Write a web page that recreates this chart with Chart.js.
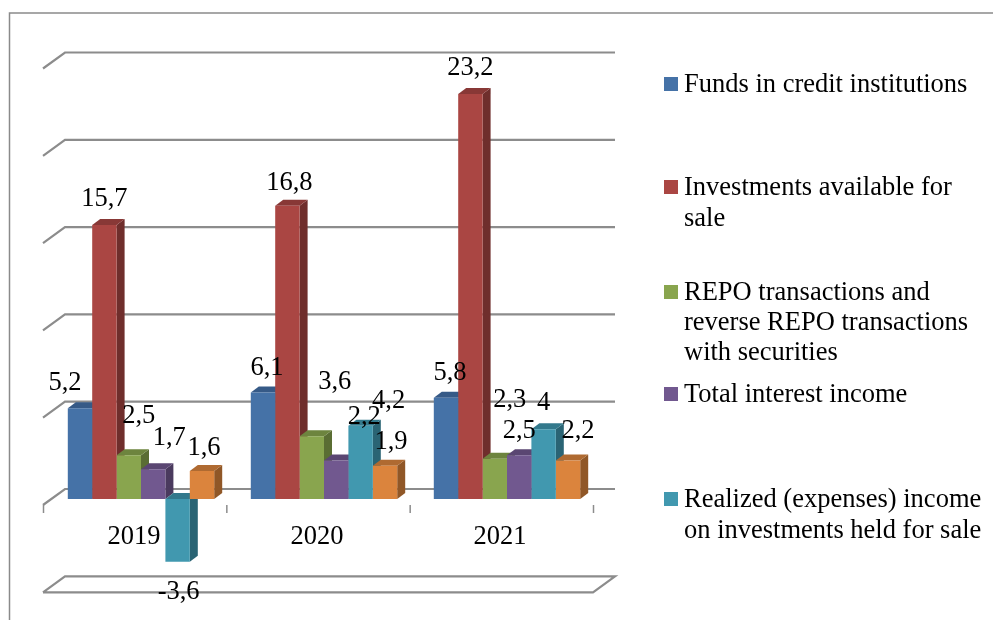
<!DOCTYPE html>
<html>
<head>
<meta charset="utf-8">
<style>html,body{margin:0;padding:0;background:#fff}canvas{display:block}</style>
<script src="https://cdn.jsdelivr.net/npm/chart.js@4/dist/chart.umd.min.js"></script>
</head>
<body>
<canvas id="c" width="993" height="620"></canvas>
<script>
const categories = ['2019', '2020', '2021'];
const funds = [5.2, 6.1, 5.8];
const investments = [15.7, 16.8, 23.2];
const repo = [2.5, 3.6, 2.3];
const totalInterest = [1.7, 2.2, 2.5];
const realized = [-3.6, 4.2, 4];
const sixthSeries = [1.6, 1.9, 2.2];

const legendLabels = [
  ['Funds in credit institutions'],
  ['Investments available for', 'sale'],
  ['REPO transactions and', 'reverse REPO transactions', 'with securities'],
  ['Total interest income'],
  ['Realized (expenses) income', 'on investments held for sale']
];
const legendBaselines = [[92], [195, 226], [300, 330, 360], [402], [507, 538]];
const legendSquareTops = [77, 180, 285, 387, 492];

const frontColors = ['#4572A7', '#AA4643', '#89A54E', '#71588F', '#4198AF', '#DB843D'];
const topColors   = ['#365A87', '#883836', '#6D843E', '#5A4672', '#33798C', '#AF6A31'];
const sideColors  = ['#2E4C70', '#6F2E2C', '#5A6D33', '#4A3A5E', '#2A6474', '#905727'];

// label offset from the bar's centre/top, [dx, dy] per series and category
const labelOffsets = [
  [[-15, -25], [4, -24], [4, -25]],
  [[0, -26], [2, -23], [0, -26]],
  [[10, -39], [23, -54], [15, -59]],
  [[16, -31], [28, -44], [0, -24]],
  [[1, 30], [28, -25], [0, -26]],
  [[2, -23], [6, -24], [10, -30]]
];

const DEPTH_X = 8, DEPTH_Y = -6;
const GRID = '#8C8C8C';
const FONT = '26.5px "Liberation Serif"';

const threeD = {
  id: 'threeD',
  beforeDraw(chart) {
    const c = chart.ctx;
    c.save();
    c.strokeStyle = '#8A8A8A';
    c.lineWidth = 1.5;
    c.beginPath();
    c.moveTo(9.5, 620);
    c.lineTo(9.5, 13);
    c.lineTo(993, 13);
    c.stroke();
    c.restore();
  },
  beforeDatasetsDraw(chart) {
    const c = chart.ctx, y = chart.scales.y;
    const backL = 65, backR = 615, frontL = 43, frontR = 593;
    c.save();
    c.strokeStyle = GRID;
    c.lineWidth = 2.2;
    c.lineJoin = 'miter';
    y.ticks.forEach(t => {
      const by = y.getPixelForValue(t.value) - 10, fy = by + 16;
      c.beginPath();
      c.moveTo(frontL, fy);
      c.lineTo(backL, by);
      c.lineTo(backR, by);
      if (t.value === y.min) {
        c.lineTo(frontR, fy);
        c.lineTo(frontL, fy);
      }
      c.stroke();
    });
    // category tick marks on the floor's front edge
    const zero = y.getPixelForValue(0) + 6;
    c.lineWidth = 1.5;
    const step = (frontR - frontL) / categories.length;
    for (let i = 0; i <= categories.length; i++) {
      const x = frontL + step * i + 0.5;
      c.beginPath();
      c.moveTo(x, zero);
      c.lineTo(x, zero + 8);
      c.stroke();
    }
    // depth faces, painted series by series from left to right
    chart.data.datasets.forEach((ds, i) => {
      chart.getDatasetMeta(i).data.forEach(el => {
        const l = el.x - el.width / 2, r = el.x + el.width / 2;
        const t = Math.min(el.y, el.base), b = Math.max(el.y, el.base);
        c.fillStyle = sideColors[i];
        c.beginPath();
        c.moveTo(r, t); c.lineTo(r + DEPTH_X, t + DEPTH_Y);
        c.lineTo(r + DEPTH_X, b + DEPTH_Y); c.lineTo(r, b);
        c.closePath(); c.fill();
        c.fillStyle = topColors[i];
        c.beginPath();
        c.moveTo(l, t); c.lineTo(l + DEPTH_X, t + DEPTH_Y);
        c.lineTo(r + DEPTH_X, t + DEPTH_Y); c.lineTo(r, t);
        c.closePath(); c.fill();
      });
    });
    c.restore();
  },
  afterDatasetsDraw(chart) {
    const c = chart.ctx;
    c.save();
    c.fillStyle = '#000';
    c.font = FONT;
    c.textAlign = 'center';
    c.textBaseline = 'middle';
    chart.data.datasets.forEach((ds, i) => {
      chart.getDatasetMeta(i).data.forEach((el, j) => {
        const [dx, dy] = labelOffsets[i][j];
        c.fillText(String(ds.data[j]).replace('.', ','), el.x + dx, el.y + dy);
      });
    });
    // legend
    c.textAlign = 'left';
    c.textBaseline = 'alphabetic';
    legendLabels.forEach((lines, i) => {
      c.fillStyle = frontColors[i];
      c.fillRect(664, legendSquareTops[i], 14, 14);
      c.fillStyle = '#000';
      lines.forEach((line, k) => c.fillText(line, 684, legendBaselines[i][k]));
    });
    c.restore();
  }
};

const series = [funds, investments, repo, totalInterest, realized, sixthSeries];
new Chart(document.getElementById('c'), {
  type: 'bar',
  data: {
    labels: categories,
    datasets: series.map((data, i) => ({
      label: i < legendLabels.length ? legendLabels[i].join(' ') : '',
      data,
      backgroundColor: frontColors[i],
      borderWidth: 0,
      barPercentage: 1,
      categoryPercentage: 0.8
    }))
  },
  options: {
    responsive: false,
    animation: false,
    layout: { padding: { left: 49.5, right: 394.5, top: 62.5, bottom: 33.7 } },
    plugins: { legend: { display: false }, tooltip: { enabled: false } },
    scales: {
      x: {
        position: { y: 0 },
        afterFit(s) { s.height = 0; },
        grid: { display: false },
        border: { display: false },
        ticks: {
          labelOffset: -7,
          padding: 14,
          maxRotation: 0,
          color: '#000',
          font: { family: '"Liberation Serif"', size: 26.5 }
        }
      },
      y: {
        display: false,
        min: -5,
        max: 25,
        ticks: { stepSize: 5 }
      }
    }
  },
  plugins: [threeD]
});
</script>
</body>
</html>
